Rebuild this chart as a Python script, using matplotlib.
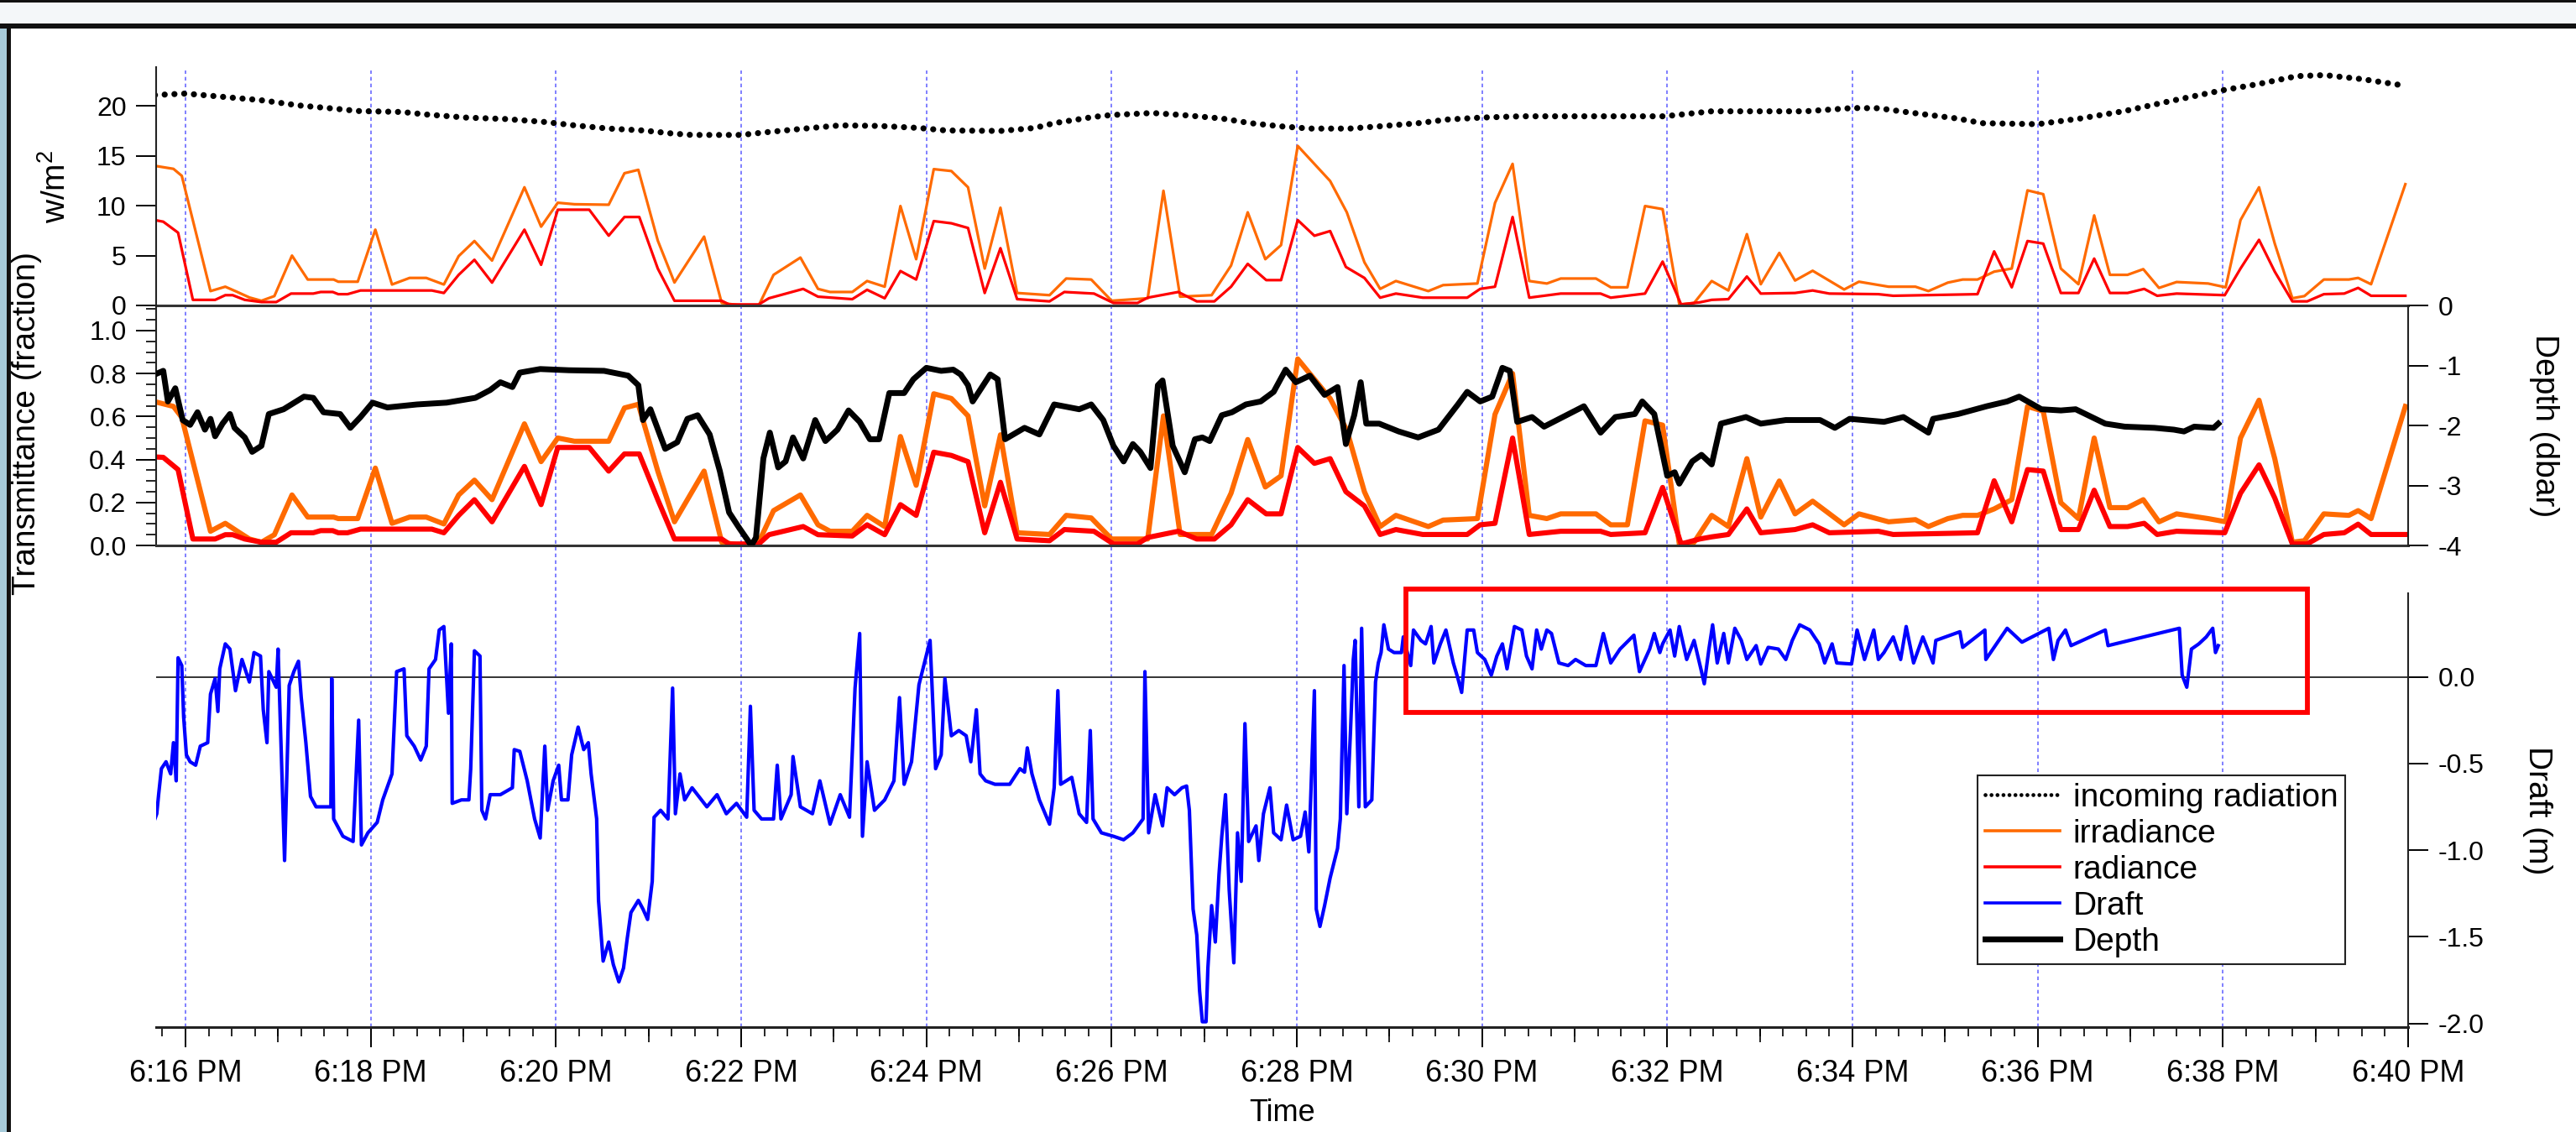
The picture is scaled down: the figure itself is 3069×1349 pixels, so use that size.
import numpy as np
import matplotlib.pyplot as plt
from matplotlib.lines import Line2D
from matplotlib.patches import Rectangle
from matplotlib.colors import LinearSegmentedColormap
from matplotlib.transforms import blended_transform_factory

plt.rcParams['font.family'] = ['Liberation Sans', 'DejaVu Sans']
plt.rcParams['mathtext.fontset'] = 'custom'
plt.rcParams['mathtext.rm'] = 'Liberation Sans'

# times are minutes after 6:00 PM
inc_t = [15.67, 16.0, 16.43, 16.8, 16.96, 17.22, 17.65, 17.86, 18.34, 18.6, 19.03, 19.45,
         19.88, 20.2, 20.57, 20.94, 21.26, 21.47, 22.0, 22.27, 22.64, 23.07, 23.5, 23.92,
         24.21, 24.8, 25.17, 25.38, 25.8, 26.0, 26.44, 26.76, 27.19, 27.5, 27.83, 28.14,
         28.57, 28.89, 29.31, 29.63, 29.99, 30.43, 31.97, 32.48, 33.49, 34.0, 34.28, 34.6,
         35.13, 35.4, 36.0, 36.46, 36.94, 37.42, 37.99, 38.38, 38.8, 39.1, 39.5, 39.92]
inc_w = [21.1, 21.25, 20.9, 20.6, 20.4, 20.06, 19.7, 19.5, 19.4, 19.15, 18.84, 18.7,
         18.4, 18.06, 17.74, 17.55, 17.24, 17.1, 17.1, 17.37, 17.7, 18.06, 18.0, 17.8,
         17.55, 17.5, 17.8, 18.28, 18.9, 19.1, 19.3, 19.1, 18.75, 18.28, 17.96, 17.74,
         17.74, 17.96, 18.28, 18.65, 18.84, 18.97, 18.97, 19.47, 19.47, 19.8, 19.78, 19.37,
         18.75, 18.28, 18.18, 18.75, 19.5, 20.47, 21.57, 22.2, 23.0, 23.1, 22.7, 22.1]

irr_t = [15.67, 15.87, 15.96, 16.27, 16.43, 16.56, 16.69, 16.82, 16.96, 17.15, 17.32, 17.60,
         17.65, 17.86, 18.05, 18.23, 18.42, 18.60, 18.79, 18.95, 19.12, 19.31, 19.66, 19.84,
         20.02, 20.20, 20.57, 20.74, 20.89, 21.10, 21.28, 21.60, 21.79, 22.00, 22.19, 22.35,
         22.64, 22.83, 22.96, 23.20, 23.36, 23.55, 23.72, 23.89,
         24.08, 24.27, 24.45, 24.63, 24.80, 24.98, 25.33, 25.51, 25.78, 26.00, 26.39, 26.56,
         26.74, 27.08, 27.29, 27.47, 27.66, 27.83, 28.01, 28.36, 28.54, 28.73, 28.90, 29.07,
         29.42, 29.58, 29.95, 30.14, 30.33, 30.51, 30.70, 30.85, 31.23, 31.39, 31.57, 31.76,
         31.95,
         32.13, 32.29, 32.48, 32.66, 32.86, 33.01, 33.21, 33.38, 33.57, 33.91, 34.07, 34.39,
         34.68, 34.82, 35.03, 35.19, 35.35, 35.53, 35.72, 35.89, 36.06, 36.25, 36.44, 36.61,
         36.78, 36.97, 37.14, 37.31, 37.50, 37.84, 38.03, 38.19, 38.39, 38.56, 38.75, 38.88,
         39.09, 39.36, 39.46, 39.60, 39.97]
irr_w = [14.0, 13.7, 13.0, 1.44, 1.88, 1.35, 0.8, 0.47, 0.94, 5.0, 2.6, 2.6,
         2.38, 2.38, 7.6, 2.1, 2.76, 2.76, 2.1, 4.95, 6.46, 4.5, 11.85, 7.9,
         10.3, 10.15, 10.1, 13.26, 13.6, 6.5, 2.3, 6.9, 0.25, 0.0, 0.0, 3.07,
         4.8, 1.66, 1.35, 1.35, 2.45, 1.88, 9.97, 4.64,
         13.67, 13.48, 11.85, 3.7, 9.8, 1.25, 1.03, 2.7, 2.6, 0.47, 0.72, 11.5,
         0.88, 1.03, 4.0, 9.34, 4.64, 6.05, 16.0, 12.48, 9.34, 4.33, 1.66, 2.45,
         1.44, 2.04, 2.2, 10.28, 14.2, 2.45, 2.2, 2.7, 2.7, 1.82, 1.82, 9.97,
         9.66,
         0.1, 0.25, 2.45, 1.5, 7.15, 2.13, 5.27, 2.5, 3.48, 1.6, 2.38, 1.88,
         1.88, 1.44, 2.29, 2.6, 2.6, 3.39, 3.7, 11.54, 11.16, 3.7, 2.13, 9.03,
         3.07, 3.07, 3.64, 1.76, 2.35, 2.2, 1.82, 8.56, 11.85, 6.2, 0.72, 0.94,
         2.6, 2.6, 2.76, 2.13, 12.16]
irr_tr = [0.669, 0.647, 0.596, 0.066, 0.103, 0.066, 0.03, 0.015, 0.05, 0.235, 0.132, 0.132,
          0.125, 0.125, 0.36, 0.103, 0.132, 0.132, 0.1, 0.235, 0.304, 0.213, 0.566, 0.39,
          0.5, 0.485, 0.485, 0.64, 0.657, 0.346, 0.11, 0.346, 0.015, 0.0, 0.015, 0.162,
          0.235, 0.096, 0.066, 0.066, 0.14, 0.088, 0.507, 0.28,
          0.706, 0.684, 0.603, 0.184, 0.515, 0.059, 0.051, 0.14, 0.128, 0.03, 0.03, 0.603,
          0.051, 0.051, 0.243, 0.493, 0.272, 0.324, 0.868, 0.684, 0.537, 0.25, 0.088, 0.14,
          0.088, 0.118, 0.125, 0.61, 0.8, 0.14, 0.125, 0.147, 0.147, 0.096, 0.096, 0.58,
          0.56,
          0.007, 0.015, 0.14, 0.088, 0.404, 0.132, 0.3, 0.147, 0.206, 0.096, 0.147, 0.11,
          0.12, 0.088, 0.125, 0.14, 0.14, 0.17, 0.213, 0.647, 0.625, 0.199, 0.125, 0.5,
          0.176, 0.176, 0.213, 0.11, 0.147, 0.125, 0.11, 0.5, 0.676, 0.404, 0.015, 0.022,
          0.147, 0.14, 0.162, 0.125, 0.647]

rad_t = [15.67, 15.76, 15.92, 16.08, 16.32, 16.43, 16.51, 16.64, 16.82, 16.98, 17.14, 17.38,
         17.46, 17.59, 17.65, 17.75, 17.89, 18.66, 18.79, 18.95, 19.12, 19.31, 19.66, 19.84,
         20.02, 20.36, 20.57, 20.74, 20.90, 21.10, 21.28, 21.79, 21.87, 22.19, 22.30, 22.67,
         22.83, 23.20, 23.36, 23.55, 23.72, 23.89,
         24.08, 24.27, 24.45, 24.63, 24.80, 24.98, 25.33, 25.49, 25.81, 26.02, 26.28, 26.39,
         26.72, 26.92, 27.11, 27.29, 27.47, 27.67, 27.83, 28.01, 28.19, 28.36, 28.53, 28.73,
         28.90, 29.07, 29.36, 29.84, 29.98, 30.14, 30.33, 30.51, 30.85, 31.28, 31.39, 31.76,
         31.95,
         32.15, 32.35, 32.48, 32.66, 32.86, 33.01, 33.38, 33.57, 33.75, 34.28, 34.44, 35.35,
         35.53, 35.72, 35.89, 36.06, 36.25, 36.44, 36.61, 36.78, 36.97, 37.15, 37.29, 37.50,
         38.02, 38.19, 38.39, 38.56, 38.75, 38.91, 39.09, 39.31, 39.46, 39.60, 39.97]
rad_w = [8.56, 8.4, 7.3, 0.56, 0.56, 1.03, 1.03, 0.56, 0.34, 0.34, 1.19, 1.19,
         1.35, 1.35, 1.13, 1.13, 1.5, 1.5, 1.25, 3.07, 4.58, 2.29, 7.6, 4.08,
         9.6, 9.6, 7.0, 8.87, 8.87, 3.7, 0.47, 0.47, 0.1, 0.1, 0.72, 1.66,
         0.88, 0.63, 1.57, 0.72, 3.45, 2.6,
         8.46, 8.24, 7.77, 1.25, 5.74, 0.63, 0.41, 1.35, 1.19, 0.25, 0.25, 0.78,
         1.35, 0.41, 0.41, 1.88, 4.17, 2.54, 2.54, 8.56, 6.99, 7.46, 3.86, 2.76,
         0.78, 1.19, 0.78, 0.78, 1.66, 1.88, 8.87, 0.78, 1.19, 1.19, 0.78, 1.19,
         4.4,
         0.1, 0.31, 0.56, 0.63, 2.9, 1.19, 1.25, 1.5, 1.19, 1.13, 0.97, 1.13,
         5.42, 1.82, 6.46, 6.2, 1.25, 1.25, 4.7, 1.25, 1.25, 1.66, 0.97, 1.19,
         1.03, 3.7, 6.58, 3.39, 0.41, 0.41, 1.13, 1.19, 1.76, 0.97, 0.97]
rad_tr = [0.412, 0.41, 0.353, 0.03, 0.03, 0.05, 0.05, 0.03, 0.015, 0.015, 0.059, 0.059,
          0.069, 0.069, 0.059, 0.059, 0.076, 0.076, 0.059, 0.14, 0.213, 0.11, 0.368, 0.19,
          0.456, 0.456, 0.346, 0.426, 0.426, 0.213, 0.03, 0.03, 0.007, 0.007, 0.05, 0.088,
          0.05, 0.044, 0.096, 0.05, 0.19, 0.14,
          0.434, 0.419, 0.39, 0.059, 0.294, 0.03, 0.022, 0.074, 0.066, 0.007, 0.007, 0.037,
          0.066, 0.03, 0.03, 0.096, 0.213, 0.147, 0.147, 0.456, 0.382, 0.404, 0.25, 0.184,
          0.051, 0.074, 0.051, 0.051, 0.096, 0.103, 0.5, 0.051, 0.066, 0.066, 0.051, 0.059,
          0.27,
          0.007, 0.03, 0.04, 0.051, 0.17, 0.059, 0.074, 0.096, 0.059, 0.066, 0.051, 0.059,
          0.301, 0.11, 0.353, 0.346, 0.074, 0.074, 0.257, 0.088, 0.088, 0.103, 0.051, 0.066,
          0.059, 0.243, 0.375, 0.221, 0.007, 0.007, 0.051, 0.059, 0.099, 0.051, 0.051]

dep_t = [15.67, 15.76, 15.81, 15.89, 15.97, 16.05, 16.13, 16.21, 16.27, 16.32, 16.40, 16.48,
         16.53, 16.64, 16.72, 16.82, 16.90, 17.06, 17.28, 17.38, 17.49, 17.67, 17.78, 17.89,
         18.02, 18.18, 18.50, 18.82, 19.13, 19.29, 19.40, 19.53, 19.61, 19.83, 20.14, 20.52,
         20.78, 20.89, 20.94, 21.02, 21.18, 21.31, 21.42, 21.53, 21.66, 21.77, 21.87, 21.98,
         22.11, 22.16, 22.24, 22.31, 22.40, 22.48, 22.56, 22.67, 22.80, 22.91, 23.04, 23.16,
         23.28, 23.39, 23.49, 23.60, 23.76, 23.86,
         24.00, 24.16, 24.29, 24.37, 24.45, 24.50, 24.58, 24.69, 24.77, 24.85, 25.06, 25.22,
         25.38, 25.65, 25.78, 25.91, 26.02, 26.13, 26.23, 26.31, 26.42, 26.50, 26.55, 26.66,
         26.79, 26.90, 26.98, 27.06, 27.19, 27.30, 27.45, 27.61, 27.75, 27.88, 27.99, 28.14,
         28.30, 28.44, 28.53, 28.62, 28.69, 28.75, 28.89, 29.10, 29.31, 29.53, 29.74, 29.84,
         29.98, 30.11, 30.22, 30.30, 30.38, 30.54, 30.67, 30.91, 31.10, 31.28, 31.44, 31.65,
         31.73, 31.86, 32.00,
         32.08, 32.13, 32.27, 32.37, 32.48, 32.58, 32.85, 33.01, 33.28, 33.65, 33.81, 33.97,
         34.34, 34.55, 34.82, 34.87, 35.14, 35.45, 35.67, 35.80, 36.04, 36.25, 36.41, 36.73,
         36.94, 37.26, 37.47, 37.58, 37.69, 37.90, 37.95]
dep_v = [-1.15, -1.09, -1.6, -1.38, -1.91, -1.99, -1.78, -2.07, -1.89, -2.18, -1.97, -1.81,
         -2.04, -2.2, -2.44, -2.34, -1.81, -1.73, -1.52, -1.54, -1.78, -1.81, -2.04, -1.86,
         -1.62, -1.7, -1.65, -1.62, -1.54, -1.41, -1.28, -1.36, -1.12, -1.06, -1.08, -1.09,
         -1.17, -1.33, -1.91, -1.73, -2.39, -2.28, -1.89, -1.83, -2.15, -2.76, -3.45, -3.71,
         -4.0, -3.87, -2.55, -2.12, -2.7, -2.6, -2.2, -2.55, -1.91, -2.26, -2.07, -1.75,
         -1.94, -2.23, -2.23, -1.46, -1.46, -1.23,
         -1.04, -1.09, -1.07, -1.15, -1.33, -1.6, -1.41, -1.15, -1.23, -2.23, -2.04, -2.15,
         -1.65, -1.73, -1.65, -1.91, -2.34, -2.6, -2.31, -2.44, -2.71, -1.33, -1.25, -2.34,
         -2.78, -2.23, -2.2, -2.26, -1.83, -1.78, -1.65, -1.6, -1.44, -1.07, -1.28, -1.17,
         -1.49, -1.36, -2.31, -1.83, -1.28, -1.97, -1.97, -2.1, -2.2, -2.07, -1.65, -1.44,
         -1.6, -1.52, -1.04, -1.09, -1.94, -1.86, -2.02, -1.83, -1.68, -2.12, -1.86, -1.81,
         -1.6, -1.81, -2.84,
         -2.78, -2.97, -2.6, -2.49, -2.65, -1.97, -1.86, -1.97, -1.91, -1.91, -2.04, -1.89,
         -1.94, -1.86, -2.12, -1.89, -1.81, -1.68, -1.6, -1.52, -1.73, -1.75, -1.73, -1.97,
         -2.02, -2.04, -2.07, -2.1, -2.02, -2.04, -1.97]

drf_t = [15.67, 15.69, 15.71, 15.74, 15.79, 15.84, 15.87, 15.90, 15.92, 15.96,
         15.98, 16.01, 16.05, 16.11, 16.16, 16.24, 16.27, 16.32, 16.35, 16.37,
         16.43, 16.48, 16.54, 16.61, 16.69, 16.74, 16.81, 16.84, 16.88, 16.90,
         16.98, 17.00, 17.04, 17.07, 17.12, 17.17, 17.22, 17.25, 17.30, 17.35,
         17.41, 17.57, 17.58, 17.60, 17.70, 17.81, 17.87, 17.90, 17.97, 18.07,
         18.13, 18.23, 18.28, 18.36, 18.39, 18.47, 18.54, 18.60, 18.63, 18.70,
         18.74, 18.79, 18.82, 18.84, 18.87, 18.88, 18.98, 19.06, 19.08, 19.12,
         19.18, 19.20, 19.24, 19.29, 19.40, 19.53, 19.55, 19.61, 19.69, 19.77,
         19.83, 19.88, 19.91, 19.97, 20.03, 20.06, 20.13, 20.17, 20.24, 20.30,
         20.35, 20.38, 20.44, 20.46, 20.51, 20.57, 20.62, 20.68, 20.73, 20.77,
         20.81, 20.89, 20.94, 20.99, 21.04, 21.06, 21.13, 21.21, 21.26, 21.29,
         21.34, 21.39, 21.47, 21.63, 21.74, 21.84, 21.95, 22.06, 22.10, 22.14,
         22.22, 22.35, 22.39, 22.43, 22.54, 22.56, 22.64, 22.77, 22.85, 22.96,
         23.07, 23.17, 23.23, 23.28, 23.31, 23.36, 23.44, 23.55, 23.65, 23.71,
         23.76, 23.84, 23.92,
         24.04, 24.10, 24.16, 24.20, 24.27, 24.35, 24.43, 24.48, 24.54, 24.58,
         24.64, 24.74, 24.90, 25.01, 25.06, 25.09, 25.14, 25.22, 25.33, 25.38,
         25.42, 25.45, 25.57, 25.65, 25.73, 25.77, 25.80, 25.89, 26.02, 26.13,
         26.23, 26.34, 26.36, 26.40, 26.47, 26.55, 26.60, 26.68, 26.76, 26.81,
         26.84, 26.88, 26.92, 26.95, 26.98, 27.02, 27.04, 27.08, 27.12, 27.16,
         27.19, 27.23, 27.27, 27.32, 27.36, 27.40, 27.44, 27.48, 27.56, 27.59,
         27.64, 27.71, 27.75, 27.83, 27.89, 27.96, 28.04, 28.09, 28.13, 28.19,
         28.21, 28.25, 28.30, 28.36, 28.44, 28.47, 28.51, 28.54, 28.58, 28.61,
         28.63, 28.67, 28.70, 28.74, 28.81, 28.85, 28.88, 28.91, 28.94, 28.99,
         29.05, 29.13, 29.15, 29.23, 29.26, 29.34, 29.39, 29.45, 29.48, 29.55,
         29.61, 29.69, 29.74, 29.78, 29.84, 29.91, 29.95, 30.03, 30.10, 30.16,
         30.22, 30.27, 30.35, 30.43, 30.48, 30.54, 30.59, 30.64, 30.70, 30.75,
         30.83, 30.93, 31.01, 31.12, 31.23, 31.31, 31.39, 31.49, 31.64, 31.70,
         31.81, 31.86, 31.92,
         31.95, 32.03, 32.08, 32.13, 32.21, 32.29, 32.37, 32.40, 32.45, 32.49,
         32.54, 32.61, 32.66, 32.73, 32.80, 32.86, 32.96, 33.01, 33.09, 33.20,
         33.28, 33.35, 33.43, 33.54, 33.64, 33.70, 33.78, 33.83, 33.99, 34.05,
         34.13, 34.23, 34.28, 34.34, 34.44, 34.52, 34.58, 34.66, 34.76, 34.87,
         34.90, 35.16, 35.19, 35.43, 35.44, 35.67, 35.83, 36.12, 36.17, 36.22,
         36.30, 36.36, 36.73, 36.76, 37.53, 37.56, 37.61, 37.66, 37.74, 37.82,
         37.89, 37.92, 37.95]
drf_v = [-0.82, -0.79, -0.68, -0.53, -0.49, -0.56, -0.38, -0.6, 0.11, 0.065,
         -0.23, -0.45, -0.49, -0.51, -0.4, -0.38, -0.1, -0.01, -0.2, 0.046,
         0.19, 0.16, -0.08, 0.1, -0.03, 0.14, 0.12, -0.19, -0.38, 0.03,
         -0.06, 0.16, -0.53, -1.06, -0.05, 0.03, 0.09, -0.12, -0.38, -0.69,
         -0.75, -0.75, -0.01, -0.82, -0.92, -0.95, -0.25, -0.97, -0.9, -0.84,
         -0.71, -0.56, 0.03, 0.046, -0.34, -0.4, -0.48, -0.4, 0.046, 0.1,
         0.27, 0.29, -0.01, -0.21, 0.19, -0.73, -0.71, -0.71, -0.53, 0.15,
         0.12, -0.77, -0.82, -0.68, -0.68, -0.64, -0.42, -0.43, -0.6, -0.82,
         -0.93, -0.4, -0.77, -0.6, -0.51, -0.71, -0.71, -0.45, -0.29, -0.42,
         -0.38, -0.56, -0.82, -1.29, -1.64, -1.53, -1.66, -1.76, -1.68, -1.51,
         -1.36, -1.29, -1.34, -1.4, -1.18, -0.81, -0.77, -0.82, -0.065, -0.79,
         -0.56, -0.71, -0.64, -0.75, -0.68, -0.79, -0.73, -0.81, -0.17, -0.77,
         -0.82, -0.82, -0.51, -0.82, -0.68, -0.46, -0.75, -0.79, -0.6, -0.85,
         -0.68, -0.81, -0.065, 0.25, -0.92, -0.49, -0.77, -0.71, -0.6, -0.12,
         -0.62, -0.49, -0.046,
         0.21, -0.53, -0.45, -0.01, -0.34, -0.31, -0.34, -0.49, -0.19, -0.56,
         -0.6, -0.62, -0.62, -0.53, -0.55, -0.41, -0.56, -0.71, -0.85, -0.64,
         -0.08, -0.62, -0.58, -0.79, -0.84, -0.31, -0.82, -0.9, -0.92, -0.94,
         -0.9, -0.82, 0.03, -0.9, -0.68, -0.86, -0.64, -0.68, -0.64, -0.63,
         -0.77, -1.34, -1.49, -1.81, -1.99, -1.99, -1.68, -1.32, -1.53, -1.14,
         -0.92, -0.68, -1.23, -1.65, -0.9, -1.18, -0.27, -0.95, -0.86, -1.06,
         -0.79, -0.64, -0.9, -0.94, -0.74, -0.94, -0.92, -0.78, -1.01, -0.08,
         -1.34, -1.44, -1.32, -1.16, -0.99, -0.82, 0.065, -0.79, -0.31, 0.1,
         0.21, -0.75, 0.28, -0.75, -0.71, -0.03, 0.08, 0.14, 0.3, 0.16,
         0.14, 0.14, 0.23, 0.065, 0.27, 0.21, 0.19, 0.29, 0.08, 0.19,
         0.27, 0.08, -0.01, -0.09, 0.27, 0.27, 0.14, 0.1, 0.01, 0.12,
         0.19, 0.046, 0.29, 0.27, 0.12, 0.046, 0.27, 0.16, 0.27, 0.25,
         0.08, 0.065, 0.1, 0.065, 0.065, 0.25, 0.08, 0.16, 0.24, 0.03,
         0.16, 0.25, 0.14,
         0.19, 0.27, 0.12, 0.29, 0.1, 0.21, 0.03, -0.04, 0.16, 0.3,
         0.08, 0.25, 0.08, 0.28, 0.21, 0.1, 0.18, 0.074, 0.17, 0.16,
         0.1, 0.21, 0.3, 0.27, 0.19, 0.08, 0.19, 0.08, 0.074, 0.27,
         0.1, 0.27, 0.1, 0.14, 0.23, 0.1, 0.29, 0.08, 0.23, 0.08,
         0.21, 0.26, 0.17, 0.27, 0.1, 0.28, 0.2, 0.28, 0.1, 0.21,
         0.27, 0.18, 0.27, 0.18, 0.28, 0.01, -0.06, 0.16, 0.19, 0.23,
         0.28, 0.14, 0.18]

time_ticks = [16, 18, 20, 22, 24, 26, 28, 30, 32, 34, 36, 38, 40]
time_labels = ['6:16 PM', '6:18 PM', '6:20 PM', '6:22 PM', '6:24 PM', '6:26 PM', '6:28 PM',
               '6:30 PM', '6:32 PM', '6:34 PM', '6:36 PM', '6:38 PM', '6:40 PM']
w_ticks = [0, 5, 10, 15, 20]
tr_ticks = [0.0, 0.2, 0.4, 0.6, 0.8, 1.0]
dep_ticks = [0, -1, -2, -3, -4]
drf_ticks = [0.0, -0.5, -1.0, -1.5, -2.0]
legend_labels = ['incoming radiation', 'irradiance', 'radiance', 'Draft', 'Depth']

ORANGE = '#FF6A00'
RED = '#FF0000'
BLUE = '#0000FF'
GRIDC = '#6A6AFF'
AXC = '#222222'
XMIN, XMAX = 15.683, 40.0
TICK_FS = 23
LAB_FS = 28

W, H = 3069, 1349
fig = plt.figure(figsize=(W / 100, H / 100), dpi=100)

# window frame of the screenshot
deco = fig.add_axes([0, 0, 1, 1], zorder=-5)
deco.axis('off')
deco.add_patch(Rectangle((0, 0), W, 30, color='#F4F7F9', lw=0))
grad = np.linspace(0, 1, 64)[None, :]
cm_l = LinearSegmentedColormap.from_list('l', ['#7FB6CD', '#9CC8DA', '#F4F7F9'])
cm_m = LinearSegmentedColormap.from_list('m', ['#F4F7F9', '#8CBFD3', '#8CBFD3', '#F4F7F9'])
deco.imshow(grad, cmap=cm_l, extent=(0, 175, 30, 3), aspect='auto')
deco.imshow(grad, cmap=cm_m, extent=(1530, 1700, 30, 3), aspect='auto')
deco.imshow(grad, cmap=cm_m, extent=(2925, 3180, 30, 3), aspect='auto')
deco.add_patch(Rectangle((0, 0), W, 3, color='#111111', lw=0))
deco.add_patch(Rectangle((0, 28), W, 6, color='#111111', lw=0))
deco.add_patch(Rectangle((0, 34), 8, H, color='#A7CBDA', lw=0))
deco.add_patch(Rectangle((8, 30), 5, H, color='#111111', lw=0))
deco.set_xlim(0, W)
deco.set_ylim(H, 0)

L, WID = 186 / W, 2683 / W
ax_top = fig.add_axes([L, 1 - 364 / H, WID, 284 / H])
ax_mid = fig.add_axes([L, 1 - 650 / H, WID, 286 / H])
ax_bot = fig.add_axes([L, 1 - 1223.6 / H, WID, 516.6 / H])
ax_dep = ax_mid.twinx()
for a in (ax_top, ax_mid, ax_bot, ax_dep):
    a.set_facecolor('none')
    a.set_xlim(XMIN, XMAX)
    for s in a.spines.values():
        s.set_visible(False)
        s.set_color(AXC)

# vertical dotted grid across all panels
tr = blended_transform_factory(ax_bot.transData, fig.transFigure)
for m in time_ticks[:-1]:
    fig.add_artist(Line2D([m, m], [1 - 1223.6 / H, 1 - 84 / H], transform=tr,
                          color=GRIDC, lw=1.2, ls=(0, (2.6, 2.2)), zorder=-1))

# top panel: w/m2
ax_top.plot(inc_t, inc_w, color='k', lw=5.2, ls=(0, (0.01, 1.6)),
            dash_capstyle='round', solid_capstyle='round')
ax_top.plot(irr_t, irr_w, color=ORANGE, lw=2.3)
ax_top.plot(rad_t, rad_w, color=RED, lw=2.3)
ax_top.set_ylim(0, 23.9)
ax_top.spines['left'].set_visible(True)
ax_top.spines['bottom'].set_visible(True)
ax_top.spines['left'].set_linewidth(1.5)
ax_top.spines['bottom'].set_linewidth(2.2)
ax_top.spines['bottom'].set_color('#333333')
ax_top.set_yticks(w_ticks)
ax_top.tick_params(axis='y', direction='out', length=17.5, width=1.4, labelsize=TICK_FS, pad=8)
ax_top.tick_params(axis='x', bottom=False, labelbottom=False)
ax_top.set_ylabel('w/m$^\\mathregular{2}$', fontsize=LAB_FS, va='center', ha='center')
ax_top.yaxis.set_label_coords(-0.0445, 0.5)

# middle panel: transmittance and depth
ax_mid.plot(irr_t, irr_tr, color=ORANGE, lw=4.4)
ax_mid.plot(rad_t, rad_tr, color=RED, lw=4.4)
ax_mid.set_ylim(0, 1.117)
ax_mid.spines['left'].set_visible(True)
ax_mid.spines['bottom'].set_visible(True)
ax_mid.spines['left'].set_linewidth(1.5)
ax_mid.spines['bottom'].set_linewidth(2.2)
ax_mid.spines['bottom'].set_color('#333333')
ax_mid.set_yticks(tr_ticks)
ax_mid.set_yticklabels(['%.1f' % v for v in tr_ticks])
ax_mid.set_yticks(np.arange(0, 1.11, 0.05), minor=True)
ax_mid.tick_params(axis='y', which='major', direction='out', length=17.5, width=1.4,
                   labelsize=TICK_FS, pad=8)
ax_mid.tick_params(axis='y', which='minor', direction='out', length=9, width=1.2)
ax_mid.tick_params(axis='x', which='both', bottom=False, labelbottom=False)
ax_mid.set_ylabel('Transmittance (fraction)', fontsize=LAB_FS, va='center', ha='center')
ax_mid.yaxis.set_label_coords(-0.0575, 0.51)

ax_dep.plot(dep_t, dep_v, color='k', lw=5.0)
ax_dep.set_ylim(-4, 0)
ax_dep.spines['right'].set_visible(True)
ax_dep.spines['right'].set_linewidth(1.5)
ax_dep.set_yticks(dep_ticks)
ax_dep.set_yticklabels(['0', '-1', '-2', '-3', '-4'])
ax_dep.tick_params(axis='y', direction='out', length=17.5, width=1.4, labelsize=TICK_FS, pad=8)
ax_dep.set_ylabel('Depth (dbar)', fontsize=LAB_FS, rotation=-90, va='center', ha='center')
ax_dep.yaxis.set_label_coords(1.0605, 0.5)

# bottom panel: draft
ax_bot.axhline(0, color='#333333', lw=1.4, zorder=1)
ax_bot.plot(drf_t, drf_v, color=BLUE, lw=3.0, zorder=2)
ax_bot.set_ylim(-2.019, 0.482)
ax_bot.yaxis.tick_right()
ax_bot.yaxis.set_label_position('right')
ax_bot.spines['right'].set_visible(True)
ax_bot.spines['bottom'].set_visible(True)
ax_bot.spines['right'].set_linewidth(1.5)
ax_bot.spines['bottom'].set_linewidth(2.2)
ax_bot.set_yticks(drf_ticks)
ax_bot.set_yticklabels(['0.0', '-0.5', '-1.0', '-1.5', '-2.0'])
ax_bot.tick_params(axis='y', direction='out', length=17.5, width=1.4, labelsize=TICK_FS, pad=8)
ax_bot.set_ylabel('Draft (m)', fontsize=LAB_FS, rotation=-90, va='center', ha='center')
ax_bot.yaxis.set_label_coords(1.0575, 0.5)

ax_bot.set_xticks(time_ticks)
ax_bot.set_xticklabels(time_labels)
ax_bot.set_xticks(np.arange(15.75, 40.01, 0.25), minor=True)
ax_bot.tick_params(axis='x', which='major', direction='out', length=17.5, width=1.4,
                   labelsize=26, pad=10)
ax_bot.tick_params(axis='x', which='minor', direction='out', length=8, width=1.2)
sec = ax_bot.secondary_xaxis('bottom')
sec.set_xticks(np.arange(17, 40, 2))
sec.set_xticklabels([])
sec.tick_params(axis='x', direction='out', length=13, width=1.2)
sec.spines['bottom'].set_visible(False)
ax_bot.set_xlabel('Time', fontsize=26, va='center')
ax_bot.xaxis.set_label_coords(0.5, -0.2)

# highlighted region
box = Rectangle((29.18, -0.204), 38.91 - 29.18, 0.506 + 0.204, fill=False,
                edgecolor=RED, lw=4.2, clip_on=False, joinstyle='miter', zorder=3)
ax_bot.add_patch(box)

handles = [Line2D([], [], color='k', lw=3.4, ls=(0, (0.01, 1.5)), dash_capstyle='round'),
           Line2D([], [], color=ORANGE, lw=2.6),
           Line2D([], [], color=RED, lw=2.6),
           Line2D([], [], color=BLUE, lw=2.6),
           Line2D([], [], color='k', lw=5.0)]
leg = ax_bot.legend(handles, legend_labels, loc='upper left',
                    bbox_to_anchor=(2356 / W, 1 - 924 / H), bbox_transform=fig.transFigure,
                    fontsize=28, frameon=True, fancybox=False, framealpha=1,
                    edgecolor=AXC, handlelength=2.3, handletextpad=0.4,
                    labelspacing=0.18, borderpad=0.22, borderaxespad=0)
leg.get_frame().set_linewidth(1.5)

fig.savefig('out.png', dpi=100)
